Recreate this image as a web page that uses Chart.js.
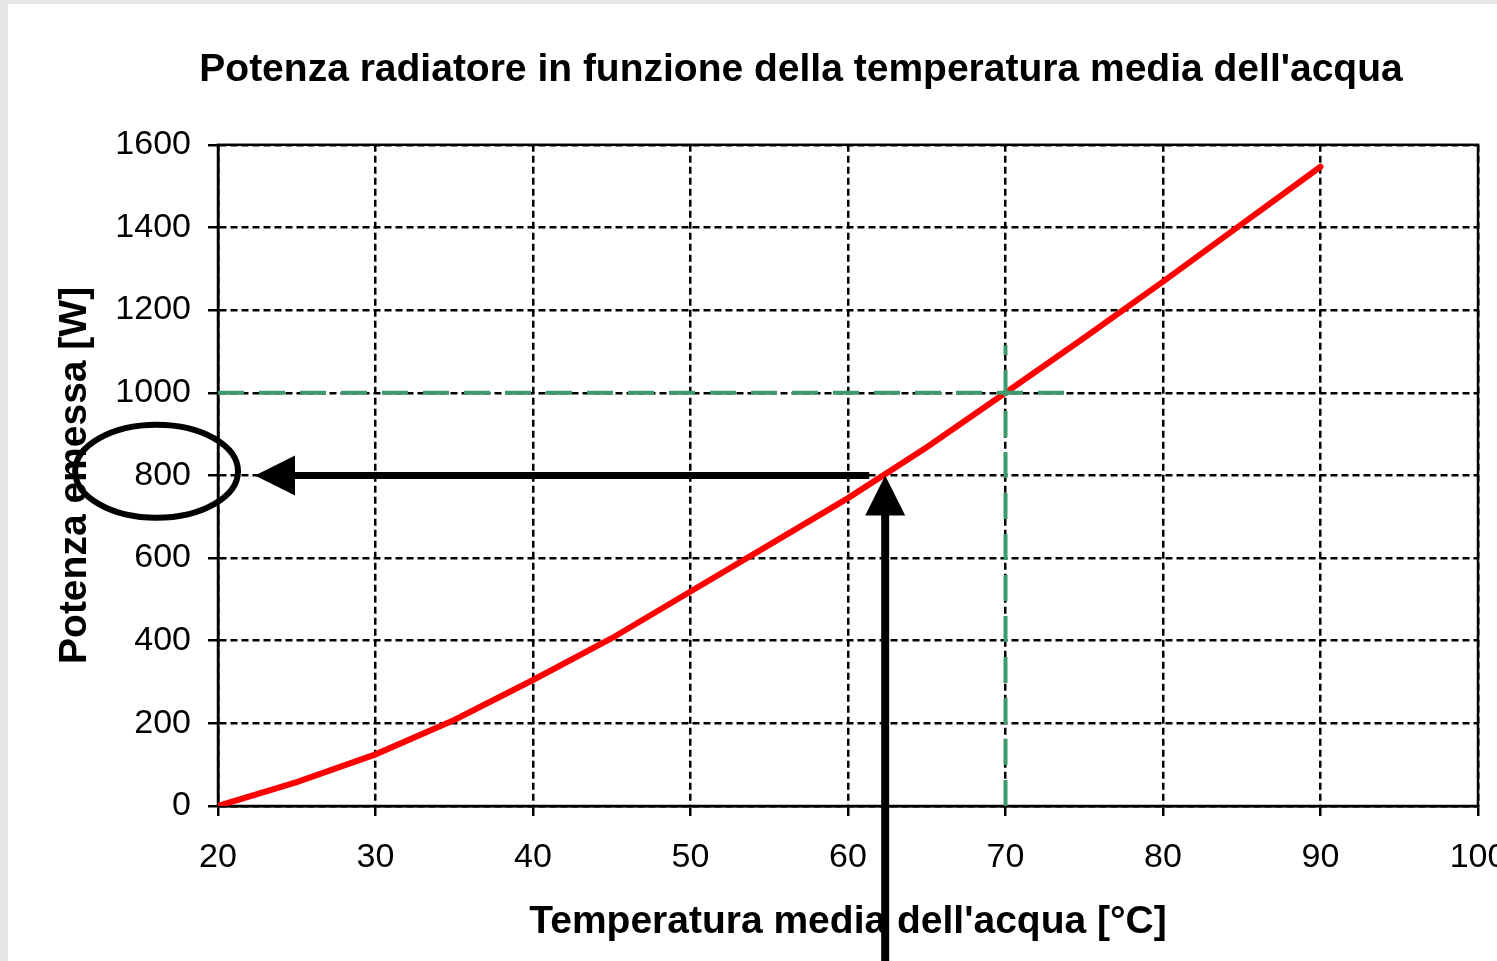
<!DOCTYPE html>
<html>
<head>
<meta charset="utf-8">
<title>Potenza radiatore</title>
<script src="https://cdn.jsdelivr.net/npm/chart.js@4.4.1/dist/chart.umd.min.js"></script>
<style>
  html, body { margin:0; padding:0; background:#e6e6e6; overflow:hidden; }
  #wrap { position:absolute; left:8px; top:4px; width:1489px; height:957px; overflow:hidden; background:#fff; }
  #chart { display:block; }
</style>
</head>
<body>
<div id="wrap"><canvas id="chart" width="1586" height="957"></canvas></div>
<script>
  // ── DATA ──────────────────────────────────────────────────────────────────
  const temps = [20, 25, 30, 35, 40, 45, 50, 55, 60, 65, 70, 75, 80, 85, 90];   // °C
  const power = [0, 58, 125, 208, 305, 406, 519, 632, 745, 868, 1000, 1133, 1269, 1408, 1547]; // W

  const xTicks = [20, 30, 40, 50, 60, 70, 80, 90, 100];
  const yTicks = [0, 200, 400, 600, 800, 1000, 1200, 1400, 1600];

  // green reading guide (70 °C -> 1000 W)
  const guideTemp  = 70;
  const guidePower = 1000;
  const guideHEnd  = 74;     // horizontal guide stops a bit past 70
  const guideVTop  = 1115;   // vertical guide top

  // black arrows (62.4 °C -> 800 W)
  const readTemp   = 62.36;
  const readPower  = 800;
  const arrowTipX  = 22.35;  // left arrow tip (°C)
  const shaftEndX  = 61.35;  // horizontal shaft end (°C)
  const arrowFromY = -400;   // vertical arrow starts below the axis (W)

  // ring around the 800 label
  const ringCenter = [16.1, 810];
  const ringRadius = [5.17, 112.5];

  const FONT = "'Liberation Sans', Arial, sans-serif";

  const curve  = temps.map((t, i) => ({ x: t, y: power[i] }));
  const guideH = [{ x: xTicks[0], y: guidePower }, { x: guideHEnd, y: guidePower }];
  const guideV = [{ x: guideTemp, y: yTicks[0] }, { x: guideTemp, y: guideVTop }];

  // ── OVERLAY (frame, arrows, ring) ─────────────────────────────────────────
  function arrowHead(ctx, tx, ty, dx, dy, len, half) {
    const bx = tx - dx * len, by = ty - dy * len;
    ctx.beginPath();
    ctx.moveTo(tx, ty);
    ctx.lineTo(bx - dy * half, by + dx * half);
    ctx.lineTo(bx + dy * half, by - dx * half);
    ctx.closePath();
    ctx.fill();
  }

  const overlay = {
    id: 'overlay',
    beforeDatasetsDraw(chart) {
      const { ctx, chartArea: a } = chart;
      ctx.save();
      ctx.strokeStyle = '#000';
      ctx.lineWidth = 2.5;
      ctx.strokeRect(a.left, a.top, a.right - a.left, a.bottom - a.top);
      ctx.restore();
    },
    afterDatasetsDraw(chart) {
      const { ctx } = chart;
      const xs = chart.scales.x, ys = chart.scales.y;
      const px = xs.getPixelForValue(readTemp), py = ys.getPixelForValue(readPower);
      const head = 40, half = 20;
      ctx.save();
      ctx.fillStyle = '#000';
      ctx.strokeStyle = '#000';
      ctx.lineCap = 'butt';

      // horizontal arrow, pointing left
      const tipX = xs.getPixelForValue(arrowTipX);
      ctx.lineWidth = 7;
      ctx.beginPath();
      ctx.moveTo(tipX + head - 2, py);
      ctx.lineTo(xs.getPixelForValue(shaftEndX), py);
      ctx.stroke();
      arrowHead(ctx, tipX, py, -1, 0, head, half);

      // vertical arrow, pointing up
      ctx.lineWidth = 8;
      ctx.beginPath();
      ctx.moveTo(px, ys.getPixelForValue(arrowFromY));
      ctx.lineTo(px, py + head - 2);
      ctx.stroke();
      arrowHead(ctx, px, py, 0, -1, head, half);

      // ring round the 800 label
      const cx = xs.getPixelForValue(ringCenter[0]), cy = ys.getPixelForValue(ringCenter[1]);
      const rx = Math.abs(xs.getPixelForValue(ringCenter[0] + ringRadius[0]) - cx);
      const ry = Math.abs(ys.getPixelForValue(ringCenter[1] + ringRadius[1]) - cy);
      ctx.lineWidth = 6;
      ctx.beginPath();
      ctx.ellipse(cx, cy, rx, ry, 0, 0, Math.PI * 2);
      ctx.stroke();
      ctx.restore();
    }
  };

  // ── CHART ─────────────────────────────────────────────────────────────────
  const gridOpts = {
    color: '#000',
    lineWidth: 2.5,
    tickLength: 10,
    tickColor: '#000',
    tickWidth: 2.5,
    tickBorderDash: [],
  };
  const borderOpts = { display: true, color: '#000', width: 2.5, dash: [7, 4] };
  const tickFont = { family: FONT, size: 34 };
  const titleFont = { family: FONT, size: 39, weight: 'bold' };

  new Chart(document.getElementById('chart'), {
    type: 'line',
    data: {
      datasets: [
        { data: guideH, borderColor: '#3c9a6c', borderWidth: 4, borderDash: [26, 15], pointRadius: 0, clip: false },
        { data: guideV, borderColor: '#3c9a6c', borderWidth: 4, borderDash: [26, 15], pointRadius: 0, clip: false },
        { data: curve, borderColor: '#ff0000', borderWidth: 6, borderCapStyle: 'round', pointRadius: 0, tension: 0 },
      ]
    },
    options: {
      responsive: false,
      animation: false,
      devicePixelRatio: 1,
      layout: { padding: 0 },
      plugins: {
        legend: { display: false },
        tooltip: { enabled: false },
        title: {
          display: true,
          text: "Potenza radiatore in funzione della temperatura media dell'acqua",
          color: '#000',
          font: titleFont,
          padding: { top: 43, bottom: 51 },
        },
      },
      scales: {
        x: {
          type: 'linear',
          min: xTicks[0], max: xTicks[xTicks.length - 1],
          afterBuildTicks: s => { s.ticks = xTicks.map(v => ({ value: v })); },
          afterFit: s => { s.height = 155; },
          grid: gridOpts,
          border: borderOpts,
          ticks: { color: '#000', font: tickFont, padding: 21, maxRotation: 0, autoSkip: false, callback: v => String(v) },
          title: { display: true, text: "Temperatura media dell'acqua [°C]", color: '#000', font: titleFont, padding: { top: 15, bottom: 15 } },
        },
        y: {
          type: 'linear',
          min: yTicks[0], max: yTicks[yTicks.length - 1],
          afterBuildTicks: s => { s.ticks = yTicks.map(v => ({ value: v })); },
          afterFit: s => { s.width = 210; },
          grid: gridOpts,
          border: borderOpts,
          ticks: { color: '#000', font: tickFont, padding: 17, callback: v => String(v) },
          title: { display: true, text: 'Potenza emessa [W]', color: '#000', font: titleFont, padding: { top: 44, bottom: 44 } },
        },
        // empty right box, only keeps the plot clear of the canvas edge
        yRight: {
          type: 'linear',
          position: 'right',
          display: true,
          min: 0, max: 1,
          grid: { display: false, drawTicks: false },
          border: { display: false },
          ticks: { display: false },
          afterFit: s => { s.width = 116; },
        },
      }
    },
    plugins: [overlay]
  });
</script>
</body>
</html>
